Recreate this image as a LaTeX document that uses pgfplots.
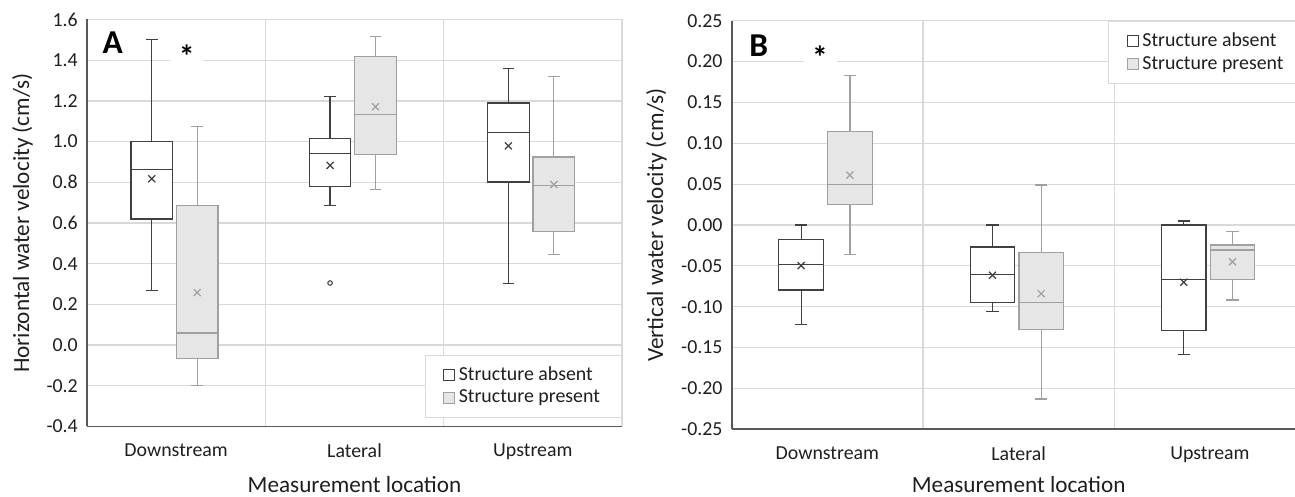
\documentclass[border=0pt]{standalone}
\usepackage{pgfplots}
\pgfplotsset{compat=1.18}
\usepgfplotslibrary{statistics}
\usepackage{fontspec}
\setmainfont{Carlito}
\definecolor{absc}{HTML}{404040}
\definecolor{prec}{HTML}{A0A0A0}
\definecolor{prefill}{HTML}{E6E6E6}
\definecolor{gridc}{HTML}{D9D9D9}
\definecolor{axisc}{HTML}{595959}
\pgfplotsset{
  mystyle/.style={
    scale only axis, anchor=south west,
    xmin=-0.5, xmax=2.5, xtick={0,1,2},
    xticklabels={Downstream,Lateral,Upstream},
    minor xtick={0.5,1.5,2.5},
    xminorgrids, ymajorgrids,
    grid style={draw=gridc, line width=0.7pt},
    minor grid style={draw=gridc, line width=0.7pt},
    major tick length=0pt, minor tick length=0pt,
    axis x line*=bottom, axis y line*=left,
    axis line style={-, draw=axisc, line width=1.1pt},
    tick label style={font=\fontsize{11.3}{13.5}\selectfont, text=black!88},
    xticklabel style={yshift=-0.23cm},
    yticklabel style={xshift=-0.06cm},
    label style={font=\fontsize{13.2}{15}\selectfont, text=black!88, inner sep=0pt},
    xlabel={Measurement location},
    legend style={draw=gridc, line width=0.6pt, fill=white, font=\fontsize{11.3}{13.5}\selectfont, text=black!88, cells={anchor=west}, inner xsep=0.36cm, inner ysep=0.16cm},
    legend image code/.code={\draw[##1, line width=0.6pt] (0cm,-0.11cm) rectangle (0.22cm,0.11cm);},
    boxplot/draw direction=y,
    boxplot/box extend=0.233, boxplot/whisker extend=0.065,
  },
  absbox/.style={draw=absc, fill=white, line width=0.7pt, solid},
  prebox/.style={draw=prec, fill=prefill, line width=0.7pt, solid},
  absmean/.style={only marks, mark=x, mark size=2.8pt, color=absc, mark options={line width=0.7pt}},
  premean/.style={only marks, mark=x, mark size=2.8pt, color=prec, mark options={line width=0.7pt}},
}
\begin{document}
\begin{tikzpicture}
\useasboundingbox (0,0) rectangle (25.9cm,9.94cm);
\clip (0,0) rectangle (25.9cm,9.94cm);
% ---------------- Panel A ----------------
\begin{axis}[mystyle,
  at={(1.74cm,1.41cm)}, width=10.7cm, height=8.14cm,
  ymin=-0.4, ymax=1.6, ytick={-0.4,-0.2,0,0.2,0.4,0.6,0.8,1.0,1.2,1.4,1.6},
  yticklabels={-0.4,-0.2,0.0,0.2,0.4,0.6,0.8,1.0,1.2,1.4,1.6},
  ylabel={Horizontal water velocity (cm/s)},
  ylabel style={at={(axis description cs:-0.1206,0.5)}, anchor=center, rotate=0},
  xlabel style={at={(axis description cs:0.5,-0.1437)}, anchor=center},
  legend style={at={(1,0.0217)}, anchor=south east},
]
\addlegendimage{draw=absc, fill=white}
\addlegendentry{Structure absent}
\addlegendimage{draw=prec, fill=prefill}
\addlegendentry{Structure present}
\addplot[absbox, forget plot, boxplot prepared={draw position=-0.137, lower whisker=0.267, lower quartile=0.62, median=0.863, upper quartile=1.0, upper whisker=1.50}] coordinates {};
\addplot[prebox, forget plot, boxplot prepared={draw position=0.118, lower whisker=-0.20, lower quartile=-0.067, median=0.059, upper quartile=0.686, upper whisker=1.074}] coordinates {};
\addplot[absbox, forget plot, boxplot prepared={draw position=0.863, lower whisker=0.685, lower quartile=0.778, median=0.943, upper quartile=1.014, upper whisker=1.222}] coordinates {};
\addplot[prebox, forget plot, boxplot prepared={draw position=1.118, lower whisker=0.763, lower quartile=0.935, median=1.133, upper quartile=1.417, upper whisker=1.515}] coordinates {};
\addplot[absbox, forget plot, boxplot prepared={draw position=1.863, lower whisker=0.301, lower quartile=0.801, median=1.045, upper quartile=1.19, upper whisker=1.358}] coordinates {};
\addplot[prebox, forget plot, boxplot prepared={draw position=2.118, lower whisker=0.447, lower quartile=0.557, median=0.784, upper quartile=0.924, upper whisker=1.318}] coordinates {};
\addplot[absmean, forget plot] coordinates {(-0.137,0.817) (0.863,0.883) (1.863,0.979)};
\addplot[premean, forget plot] coordinates {(0.118,0.258) (1.118,1.171) (2.118,0.789)};
\addplot[only marks, mark=o, mark size=1.3pt, color=absc, mark options={line width=0.6pt}, forget plot] coordinates {(0.863,0.305)};
\node[fill=white, inner sep=0pt, minimum width=0.66cm, minimum height=0.56cm] at (axis cs:0.06,1.451) {};
\node[inner sep=0pt, font=\fontsize{18}{18}\selectfont\bfseries, yshift=-0.13cm] at (axis cs:0.06,1.451) {*};
\node[inner sep=0pt, font=\fontsize{19}{19}\selectfont\bfseries] at (axis cs:-0.3555,1.488) {A};
\end{axis}
% ---------------- Panel B ----------------
\begin{axis}[mystyle,
  at={(14.634cm,1.354cm)}, width=11.478cm, height=8.172cm,
  ymin=-0.25, ymax=0.25, ytick={-0.25,-0.2,-0.15,-0.1,-0.05,0,0.05,0.1,0.15,0.2,0.25},
  yticklabels={-0.25,-0.20,-0.15,-0.10,-0.05,0.00,0.05,0.10,0.15,0.20,0.25},
  ylabel={Vertical water velocity (cm/s)},
  ylabel style={at={(axis description cs:-0.131,0.5)}, anchor=center, rotate=0},
  xlabel style={at={(axis description cs:0.5,-0.134)}, anchor=center},
  legend style={at={(1,1)}, anchor=north east},
]
\addlegendimage{draw=absc, fill=white}
\addlegendentry{Structure absent}
\addlegendimage{draw=prec, fill=prefill}
\addlegendentry{Structure present}
\addplot[absbox, forget plot, boxplot prepared={draw position=-0.137, lower whisker=-0.122, lower quartile=-0.0795, median=-0.0485, upper quartile=-0.0175, upper whisker=0.0}] coordinates {};
\addplot[prebox, forget plot, boxplot prepared={draw position=0.118, lower whisker=-0.036, lower quartile=0.0248, median=0.0497, upper quartile=0.114, upper whisker=0.183}] coordinates {};
\addplot[absbox, forget plot, boxplot prepared={draw position=0.863, lower whisker=-0.106, lower quartile=-0.0945, median=-0.0607, upper quartile=-0.027, upper whisker=0.0}] coordinates {};
\addplot[prebox, forget plot, boxplot prepared={draw position=1.118, lower whisker=-0.213, lower quartile=-0.1275, median=-0.095, upper quartile=-0.0338, upper whisker=0.0489}] coordinates {};
\addplot[absbox, forget plot, boxplot prepared={draw position=1.863, lower whisker=-0.1585, lower quartile=-0.129, median=-0.067, upper quartile=0.0, upper whisker=0.0049}] coordinates {};
\addplot[prebox, forget plot, boxplot prepared={draw position=2.118, lower whisker=-0.0917, lower quartile=-0.067, median=-0.0306, upper quartile=-0.0245, upper whisker=-0.0077}] coordinates {};
\addplot[absmean, forget plot] coordinates {(-0.137,-0.0497) (0.863,-0.0615) (1.863,-0.070)};
\addplot[premean, forget plot] coordinates {(0.118,0.061) (1.118,-0.084) (2.118,-0.045)};
\node[fill=white, inner sep=0pt, minimum width=0.66cm, minimum height=0.56cm] at (axis cs:-0.0384,0.2139) {};
\node[inner sep=0pt, font=\fontsize{18}{18}\selectfont\bfseries, yshift=-0.13cm] at (axis cs:-0.0384,0.2139) {*};
\node[inner sep=0pt, font=\fontsize{19}{19}\selectfont\bfseries] at (axis cs:-0.359,0.220) {B};
\end{axis}
\end{tikzpicture}
\end{document}
